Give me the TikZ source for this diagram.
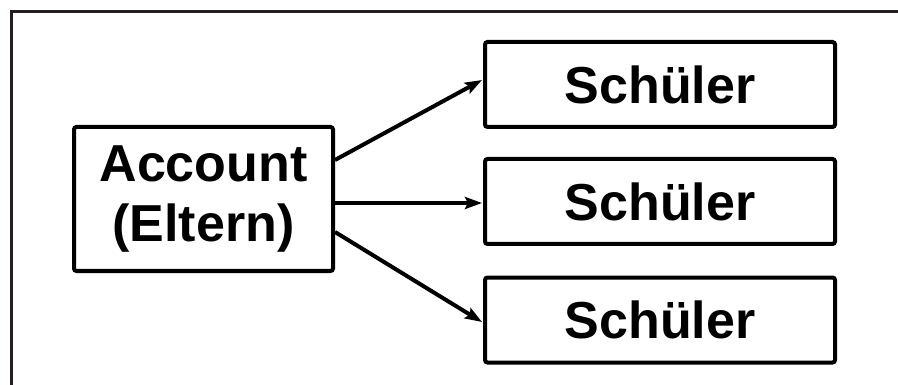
\documentclass[tikz,border=0pt]{standalone}
\usepackage{fontspec}
\setmainfont{Liberation Sans}
\usetikzlibrary{arrows.meta,calc}
\definecolor{framegray}{HTML}{231F20}
\begin{document}
\begin{tikzpicture}[x=1pt,y=-1pt,
  box/.style={draw=black, line width=4pt, rounded corners=2.5pt, fill=white,
    inner sep=0pt, align=center, font=\bfseries\fontsize{52}{60}\selectfont},
  link/.style={line width=4pt, -{Stealth[length=17pt,width=12pt,inset=3pt]}}]
\useasboundingbox (0,0) rectangle (898,385);
\draw[framegray, line width=3pt] (11.5,385) coordinate (fa) -- (11.5,11.5) -- (898,11.5) coordinate (fb);
\node[box, minimum width=259pt, minimum height=144pt] (acc) at (203.5,199) {Account\\(Eltern)};
\node[box, minimum width=350pt, minimum height=85pt] (s1) at (660,84.5) {Schüler};
\node[box, minimum width=350pt, minimum height=85pt] (s2) at (660,201.5) {Schüler};
\node[box, minimum width=350pt, minimum height=85pt] (s3) at (660,320) {Schüler};
\draw[link] ($(acc.east)+(0,-39)$) -- ($(s1.west)+(-1,-4.5)$);
\draw[link] ($(acc.east)+(0,4)$) -- ($(s2.west)+(-1,1.5)$);
\draw[link] ($(acc.east)+(0,33)$) -- ($(s3.west)+(-1,2)$);
\end{tikzpicture}
\end{document}
